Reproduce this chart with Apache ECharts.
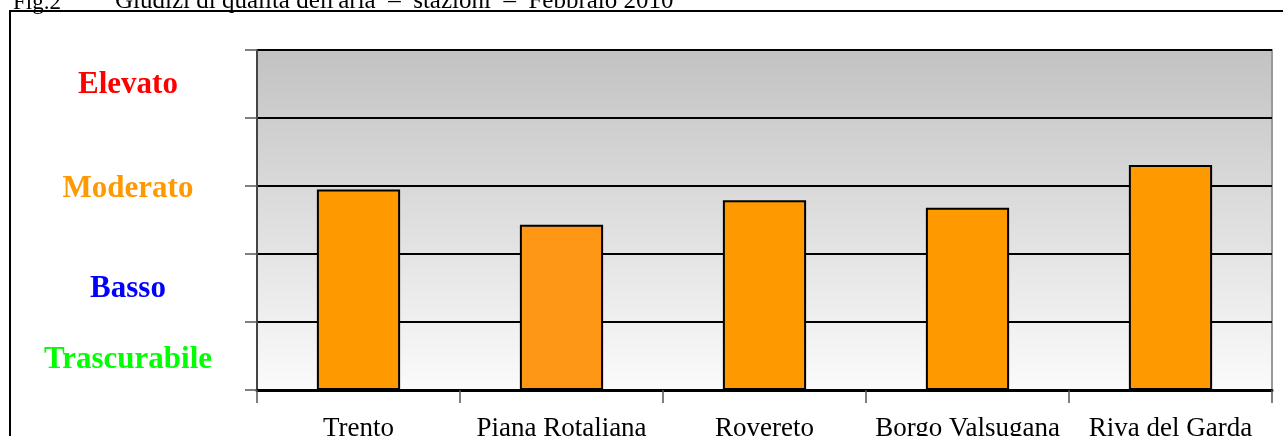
<!DOCTYPE html>
<html>
<head>
<meta charset="utf-8">
<script src="https://cdn.jsdelivr.net/npm/echarts@6/dist/echarts.min.js"></script>
<style>
  html, body { margin: 0; padding: 0; background: #fff; }
  #frame {
    position: absolute; left: 9px; top: 10px; width: 1280px; height: 430px;
    border-left: 2px solid #000; border-top: 2px solid #000;
  }
  #chart { position: absolute; left: 0; top: 0; width: 1283px; height: 436px; }
</style>
</head>
<body>
<div id="frame"></div>
<div id="chart"></div>
<script>
// stazioni e giudizio medio (scala 0-5)
const stations = ['Trento', 'Piana Rotaliana', 'Rovereto', 'Borgo Valsugana', 'Riva del Garda'];
const scores = [2.95, 2.43, 2.79, 2.68, 3.31];

// etichette dei livelli sull'asse verticale
const levelNames = ['Trascurabile', 'Basso', 'Moderato', 'Elevato'];
const levelValues = [0.44, 1.49, 2.96, 4.48];
const levelKeys = ['t', 'b', 'm', 'e'];

const serif = "'Liberation Serif', 'Times New Roman', serif";
const chart = echarts.init(document.getElementById('chart'));

const levelStyle = (c) => ({ color: c, fontFamily: serif, fontSize: 31, fontWeight: 'bold' });

const option = {
  animation: false,
  title: [
    { text: 'Fig.2', left: 8, top: -14, textStyle: { fontFamily: serif, fontSize: 23, fontWeight: 'normal', color: '#000' } },
    { text: "Giudizi di qualità dell'aria  –  stazioni  –  Febbraio 2010", left: 110, top: -16,
      textStyle: { fontFamily: serif, fontSize: 25, fontWeight: 'normal', color: '#000' } }
  ],
  grid: {
    left: 257, right: 11, top: 50, bottom: 46,
    outerBoundsMode: 'none',
    show: true,
    borderColor: '#999',
    borderWidth: 2,
    backgroundColor: new echarts.graphic.LinearGradient(0, 0, 0, 1, [
      { offset: 0, color: '#c2c2c2' },
      { offset: 1, color: '#fbfbfb' }
    ])
  },
  xAxis: {
    type: 'category',
    data: stations,
    axisLine: { lineStyle: { color: '#000', width: 3 } },
    axisTick: { show: true, length: 13, lineStyle: { color: '#555', width: 1.5 } },
    axisLabel: { interval: 0, margin: 25, fontFamily: serif, fontSize: 27, color: '#000' }
  },
  yAxis: {
    type: 'value',
    min: 0,
    max: 5,
    interval: 1,
    axisLine: { show: true, lineStyle: { color: '#444', width: 2 } },
    axisTick: { show: true, length: 12, lineStyle: { color: '#555', width: 1.5 } },
    splitLine: { show: true, lineStyle: { color: '#000', width: 2 } },
    axisLabel: {
      customValues: levelValues,
      margin: 129,
      align: 'center',
      verticalAlign: 'middle',
      formatter: function (v) {
        let i = levelValues.indexOf(v);
        if (i < 0) return '';
        return '{' + levelKeys[i] + '|' + levelNames[i] + '}';
      },
      rich: {
        t: levelStyle('#00ff00'),
        b: levelStyle('#0000ff'),
        m: levelStyle('#ff9900'),
        e: levelStyle('#ff0000')
      }
    }
  },
  series: [{
    type: 'bar',
    data: scores,
    barCategoryGap: '59%',
    itemStyle: {
      color: function (p) { return p.dataIndex === 1 ? '#ff9716' : '#ff9900'; },
      borderColor: '#000',
      borderWidth: 2
    }
  }]
};

chart.setOption(option);
</script>
</body>
</html>
